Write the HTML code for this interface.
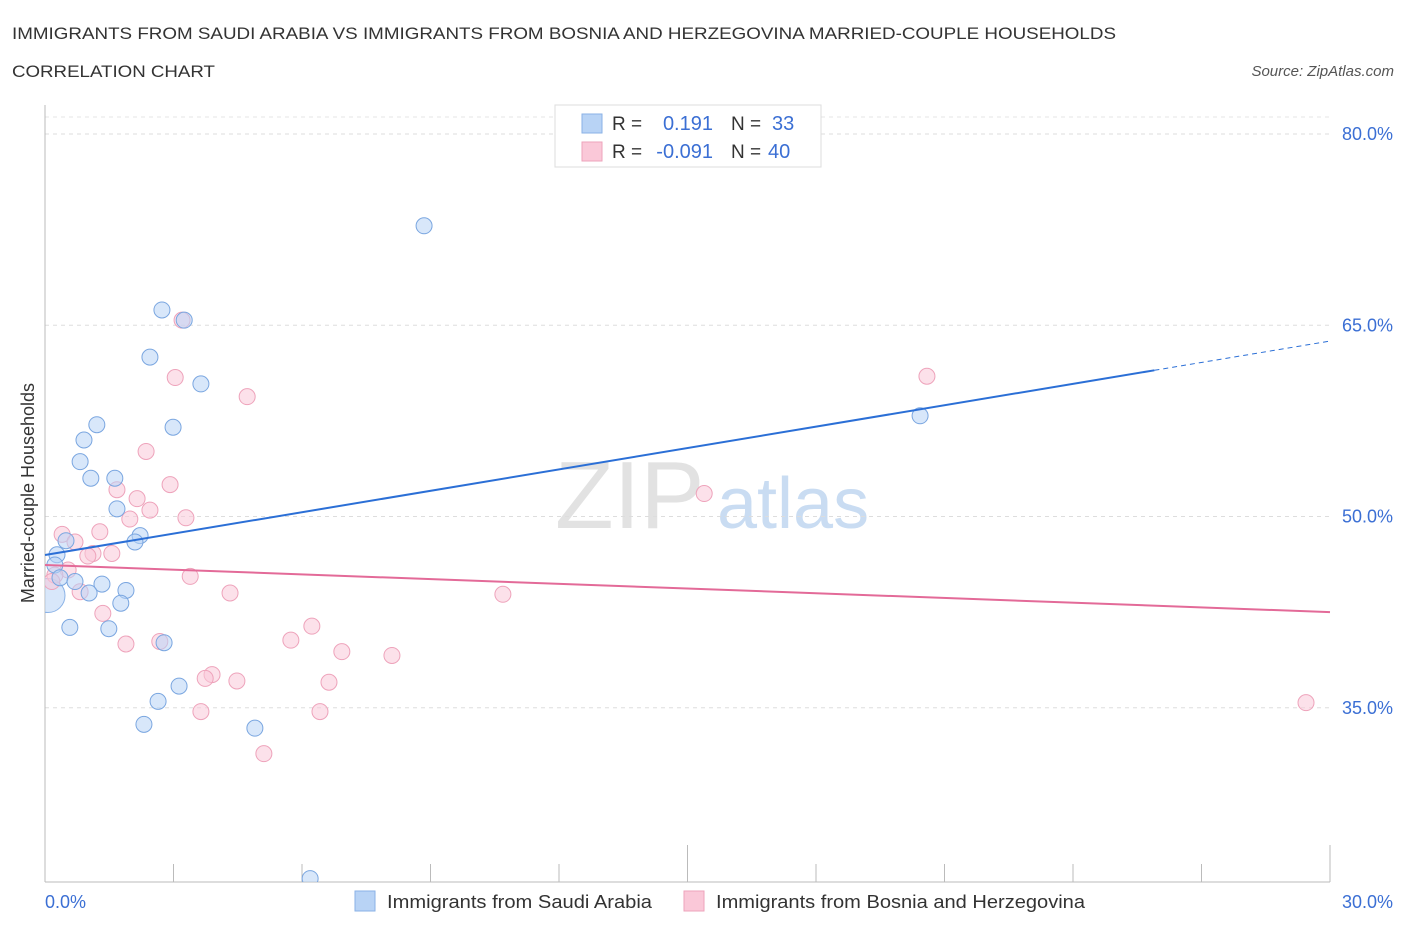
<!DOCTYPE html>
<html><head><meta charset="utf-8">
<style>
body{margin:0;background:#fff;font-family:"Liberation Sans",sans-serif;}
svg text{font-family:"Liberation Sans",sans-serif;}
</style></head>
<body>
<svg id="chart" width="1406" height="930" xmlns="http://www.w3.org/2000/svg">
<defs><clipPath id="clip"><rect x="45" y="100" width="1305" height="782"/></clipPath></defs>
<text x="12" y="39" font-size="17" fill="#333" textLength="1104" lengthAdjust="spacingAndGlyphs">IMMIGRANTS FROM SAUDI ARABIA VS IMMIGRANTS FROM BOSNIA AND HERZEGOVINA MARRIED-COUPLE HOUSEHOLDS</text>
<text x="12" y="77" font-size="17" fill="#333" textLength="203" lengthAdjust="spacingAndGlyphs">CORRELATION CHART</text>
<text x="1394" y="76" font-size="15" fill="#555" font-style="italic" text-anchor="end">Source: ZipAtlas.com</text>
<text x="555" y="528" font-size="96" fill="#e2e2e2" font-family="Liberation Serif">ZIP</text>
<text x="717" y="528" font-size="72" fill="#c9dcf2">atlas</text>
<g id="grid"></g>
<g id="axes"></g>
<g id="marks"></g>
<text transform="translate(34,493) rotate(-90)" font-size="18" fill="#333" text-anchor="middle">Married-couple Households</text>
<g>
<rect x="555" y="105" width="266" height="62" fill="#fff" stroke="#ddd"/>
<rect x="582" y="114" width="20" height="19" fill="#b8d3f5" stroke="#8ab2e6"/>
<rect x="582" y="142" width="20" height="19" fill="#fac8d8" stroke="#eea3bb"/>
<text x="612" y="130" font-size="19" fill="#333">R =</text>
<text x="713" y="130" font-size="20" fill="#3b6fd4" text-anchor="end">0.191</text>
<text x="731" y="130" font-size="19" fill="#333">N =</text>
<text x="772" y="130" font-size="20" fill="#3b6fd4">33</text>
<text x="612" y="158" font-size="19" fill="#333">R =</text>
<text x="713" y="158" font-size="20" fill="#3b6fd4" text-anchor="end">-0.091</text>
<text x="731" y="158" font-size="19" fill="#333">N =</text>
<text x="768" y="158" font-size="20" fill="#3b6fd4">40</text>
</g>
<g>
<rect x="355" y="891" width="20" height="20" fill="#b8d3f5" stroke="#8ab2e6"/>
<text x="387" y="908" font-size="18" fill="#333" textLength="265" lengthAdjust="spacingAndGlyphs">Immigrants from Saudi Arabia</text>
<rect x="684" y="891" width="20" height="20" fill="#fac8d8" stroke="#eea3bb"/>
<text x="716" y="908" font-size="18" fill="#333" textLength="369" lengthAdjust="spacingAndGlyphs">Immigrants from Bosnia and Herzegovina</text>
</g>
</svg>
<script>
const yTicks=[35,50,65,80];
const yTickLabels=["35.0%","50.0%","65.0%","80.0%"];
const xTickCount=[0,3,6,9,12,15,18,21,24,27,30];
const saudiX=[2.73,3.25,2.45,3.64,1.21,2.99,0.91,0.82,1.07,1.63,1.68,2.22,2.10,0.49,0.28,0.23,0.35,0.70,1.33,1.03,1.89,1.77,0.58,1.49,2.78,2.64,3.13,2.31,4.9,6.19,20.43,8.85];
const saudiY=[66.2,65.4,62.5,60.4,57.2,57.0,56.0,54.3,53.0,53.0,50.6,48.5,48.0,48.1,47.0,46.2,45.2,44.9,44.7,44.0,44.2,43.2,41.3,41.2,40.1,35.5,36.7,33.7,33.4,21.6,57.9,72.8];
const saudiBigX=[0.07], saudiBigY=[43.8];
const bosniaX=[3.2,3.04,4.72,20.59,2.36,2.92,1.68,2.15,2.45,1.98,3.29,1.28,0.40,0.70,1.12,1.0,1.56,0.54,0.23,0.16,0.82,3.39,4.32,1.35,1.89,2.68,5.74,6.23,6.93,8.1,3.90,3.74,4.48,6.63,3.64,6.42,5.11,10.69,15.39,29.44];
const bosniaY=[65.4,60.9,59.4,61.0,55.1,52.5,52.1,51.4,50.5,49.8,49.9,48.8,48.6,48.0,47.1,46.9,47.1,45.8,45.4,44.9,44.1,45.3,44.0,42.4,40.0,40.2,40.3,41.4,39.4,39.1,37.6,37.3,37.1,37.0,34.7,34.7,31.4,43.9,51.8,35.4];
const saudiTrend=[46.98,63.76];
const bosniaTrend=[46.2,42.5];
const X0=45,X1=1330,Y80=134,PPY=12.75,AXB=882;
const sx=v=>X0+(X1-X0)*v/30;
const sy=v=>Y80+(80-v)*PPY;
const NS="http://www.w3.org/2000/svg";
function mk(t,a,p){const e=document.createElementNS(NS,t);for(const k in a)e.setAttribute(k,a[k]);p.appendChild(e);return e;}
const grid=document.getElementById('grid'),axes=document.getElementById('axes'),marks=document.getElementById('marks');
yTicks.forEach((v,i)=>{
 const l=mk('line',{x1:X0,x2:X1,y1:sy(v),y2:sy(v),stroke:'#ddd','stroke-dasharray':'4,4'},grid);
 
 
 const t=mk('text',{x:1393,y:sy(v)+6,'font-size':18,fill:'#3b6fd4','text-anchor':'end'},axes);
 t.textContent=yTickLabels[i];
 
 
});
const topGrid=mk('line',{x1:X0,x2:X1,y1:117,y2:117,stroke:'#e4e4e4','stroke-dasharray':'4,4'},grid);


const ya=mk('line',{x1:X0,x2:X0,y1:105,y2:AXB,stroke:'#bbb'},axes);


const xa=mk('line',{x1:X0,x2:X1,y1:AXB,y2:AXB,stroke:'#bbb'},axes);


xTickCount.forEach(v=>{
 const t=mk('line',{x1:sx(v),x2:sx(v),y1:v%15===0?845:864,y2:AXB,stroke:'#bbb'},axes);
 
 
});
const xl0=mk('text',{x:45,y:908,'font-size':18,fill:'#3b6fd4'},axes);xl0.textContent="0.0%";


const xl1=mk('text',{x:1393,y:908,'font-size':18,fill:'#3b6fd4','text-anchor':'end'},axes);xl1.textContent="30.0%";


const g=mk('g',{'clip-path':'url(#clip)'},marks);
function pts(xs,ys,r,fill,stroke,name){xs.forEach((x,i)=>{const c=mk('circle',{cx:sx(x),cy:sy(ys[i]),r:r,fill:fill,stroke:stroke,'stroke-width':1,'fill-opacity':0.55},g);
 
 });}
pts(saudiBigX,saudiBigY,17,'#b8d3f5','#8ab2e6','point-saudi');
pts(bosniaX,bosniaY,8,'#fac8d8','#eea3bb','point-bosnia');
pts(saudiX,saudiY,8,'#b8d3f5','#7aa6e0','point-saudi');
const xs=25.9;
const ysplit=saudiTrend[0]+(saudiTrend[1]-saudiTrend[0])*xs/30;
const bl=mk('line',{x1:sx(0),y1:sy(saudiTrend[0]),x2:sx(xs),y2:sy(ysplit),stroke:'#2b6fd6','stroke-width':2},marks);


const bd=mk('line',{x1:sx(xs),y1:sy(ysplit),x2:sx(30),y2:sy(saudiTrend[1]),stroke:'#2b6fd6','stroke-width':1,'stroke-dasharray':'5,4'},marks);


const pl=mk('line',{x1:sx(0),y1:sy(bosniaTrend[0]),x2:sx(30),y2:sy(bosniaTrend[1]),stroke:'#e36a98','stroke-width':2},marks);


</script>
</body></html>
